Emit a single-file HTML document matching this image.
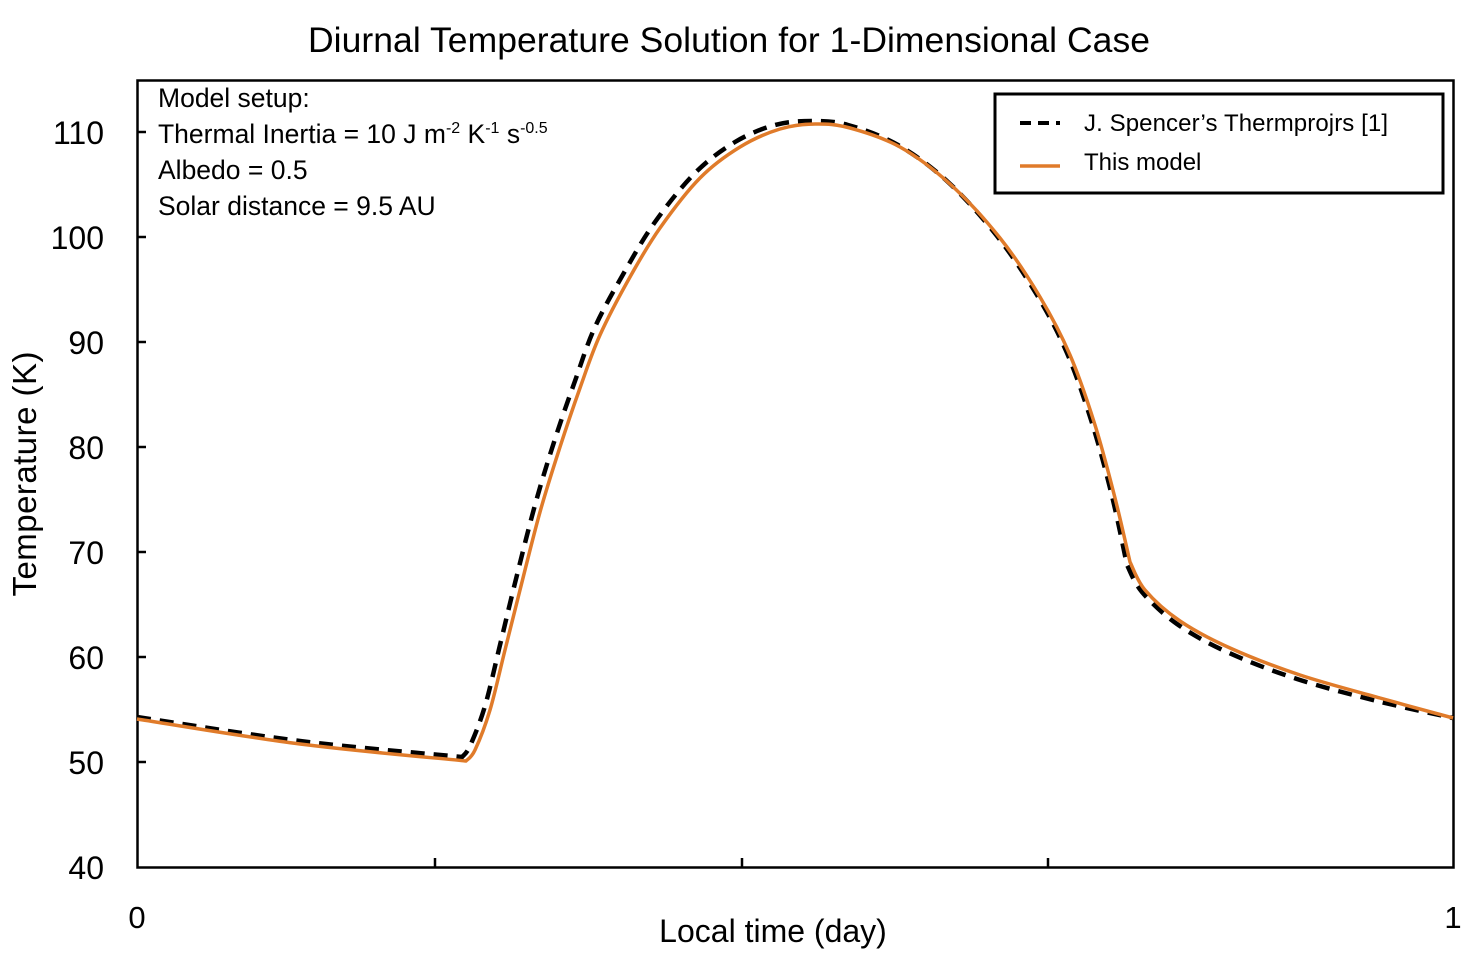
<!DOCTYPE html>
<html><head><meta charset="utf-8"><style>
body{margin:0;background:#fff;}
svg text{font-family:"Liberation Sans",sans-serif;fill:#000;}
</style></head><body>
<svg width="1478" height="964" viewBox="0 0 1478 964" xmlns="http://www.w3.org/2000/svg">
<rect x="0" y="0" width="1478" height="964" fill="#fff"/>
<text x="729" y="52" font-size="35.5" text-anchor="middle" textLength="842">Diurnal Temperature Solution for 1-Dimensional Case</text>
<rect x="137.5" y="80.5" width="1316" height="787" fill="none" stroke="#000" stroke-width="2.5"/>
<g stroke="#000" stroke-width="2.5">
<line x1="137" y1="132" x2="146" y2="132"/><line x1="137" y1="237" x2="146" y2="237"/>
<line x1="137" y1="342" x2="146" y2="342"/><line x1="137" y1="447" x2="146" y2="447"/>
<line x1="137" y1="552" x2="146" y2="552"/><line x1="137" y1="657" x2="146" y2="657"/>
<line x1="137" y1="762" x2="146" y2="762"/>
<line x1="435" y1="867" x2="435" y2="858"/><line x1="742" y1="867" x2="742" y2="858"/><line x1="1048" y1="867" x2="1048" y2="858"/>
</g>
<g font-size="32" text-anchor="end">
<text x="104" y="144">110</text><text x="104" y="249">100</text><text x="104" y="354">90</text>
<text x="104" y="459">80</text><text x="104" y="564">70</text><text x="104" y="669">60</text>
<text x="104" y="774">50</text><text x="104" y="879">40</text>
</g>
<text x="137" y="928" font-size="31" text-anchor="middle">0</text>
<text x="1453" y="928" font-size="31" text-anchor="middle">1</text>
<text x="773" y="942" font-size="32" text-anchor="middle">Local time (day)</text>
<text transform="translate(36,474) rotate(-90)" font-size="33" text-anchor="middle" textLength="245">Temperature (K)</text>
<g font-size="26.5">
<text x="158" y="107">Model setup:</text>
<text x="158" y="143">Thermal Inertia = 10 J m<tspan font-size="16" dy="-10">-2</tspan><tspan dy="10"> K</tspan><tspan font-size="16" dy="-10">-1</tspan><tspan dy="10"> s</tspan><tspan font-size="16" dy="-10">-0.5</tspan></text>
<text x="158" y="179">Albedo = 0.5</text>
<text x="158" y="215">Solar distance = 9.5 AU</text>
</g>
<path id="blk" d="" fill="none" stroke="#000" stroke-width="4.5" stroke-dasharray="14,9"/>
<path id="org" d="" fill="none" stroke="#e07b2a" stroke-width="3.5" stroke-linejoin="round"/>
<rect x="995" y="94" width="448" height="99" fill="#fff" stroke="#000" stroke-width="3"/>
<line x1="1020" y1="123" x2="1060" y2="123" stroke="#000" stroke-width="4" stroke-dasharray="11,7"/>
<line x1="1020" y1="166" x2="1060" y2="166" stroke="#e07b2a" stroke-width="3.5"/>
<text x="1084" y="131" font-size="24" textLength="304">J. Spencer’s Thermprojrs [1]</text>
<text x="1084" y="170" font-size="24">This model</text>
</svg>
<script>
function cr(p){let d="M"+p[0][0]+","+p[0][1];for(let i=0;i<p.length-1;i++){const a=p[Math.max(i-1,0)],b=p[i],c=p[i+1],e=p[Math.min(i+2,p.length-1)];const c1=[b[0]+(c[0]-a[0])/6,b[1]+(c[1]-a[1])/6],c2=[c[0]-(e[0]-b[0])/6,c[1]-(e[1]-b[1])/6];d+=" C"+c1+" "+c2+" "+c;}return d;}
const o=[[137,719],[300,744],[466,761]],o2=[[466,761],[475,750],[490,710],[505,650],[520,590],[540,512],[560,447],[580,388],[600,335],[630,277],[660,228],[700,178],[740,147],[780,129],[815,124],[850,128],[900,147],[950,184],[1000,238],[1040,297],[1070,355],[1095,425],[1115,498],[1130,562]],o3=[[1130,562],[1145,590],[1180,621],[1230,648],[1300,675],[1380,698],[1453,718]];
const b=[[137,717],[300,741],[462,757]],b2=[[462,757],[470,746],[485,706],[500,645],[515,583],[535,505],[555,439],[575,381],[595,327],[625,271],[655,222],[695,173],[735,142],[775,125],[812,121],[848,125],[898,145],[948,182],[997,236],[1037,295],[1067,353],[1092,423],[1112,496],[1127,565]],b3=[[1127,565],[1142,592],[1177,624],[1227,652],[1297,679],[1377,701],[1453,718]];
document.getElementById("org").setAttribute("d",cr(o)+" "+cr(o2).replace("M","L")+" "+cr(o3).replace("M","L"));
document.getElementById("blk").setAttribute("d",cr(b)+" "+cr(b2).replace("M","L")+" "+cr(b3).replace("M","L"));
</script>
</body></html>
